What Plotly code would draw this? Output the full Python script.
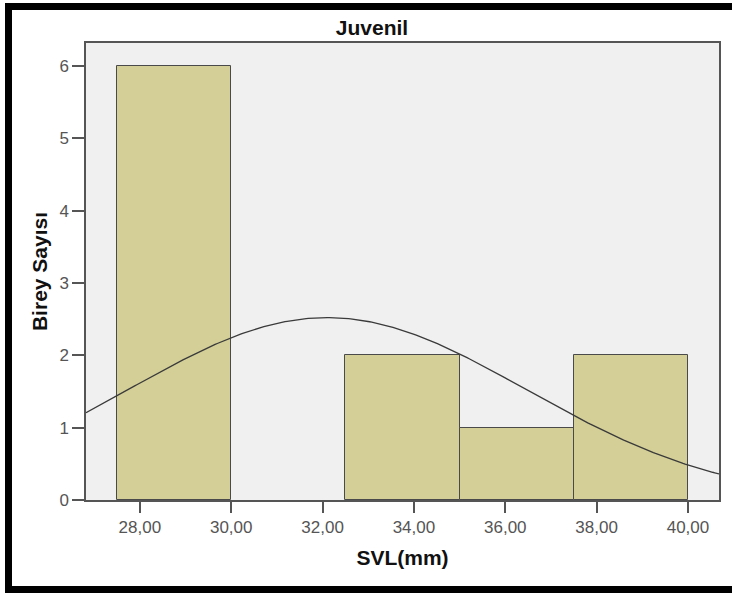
import numpy as np
import plotly.graph_objects as go

# Data
bin_starts = [27.5, 30.0, 32.5, 35.0, 37.5]
bin_width = 2.5
counts = [6, 0, 2, 1, 2]
x_tick_vals = [28, 30, 32, 34, 36, 38, 40]
x_tick_text = ["28,00", "30,00", "32,00", "34,00", "36,00", "38,00", "40,00"]
y_tick_vals = [0, 1, 2, 3, 4, 5, 6]
fit_mean = 32.1
fit_sd = 4.35
n_total = sum(counts)

W, H = 732, 593
ml, mr, mt, mb = 86, 13, 43, 93
pw, ph = W - ml - mr, H - mt - mb

centers = [s + bin_width / 2 for s in bin_starts]
x_range = [26.82, 40.68]
y_range = [0, 6.32]

xs = np.linspace(x_range[0], x_range[1], 300)
ys = n_total * bin_width / (fit_sd * np.sqrt(2 * np.pi)) * np.exp(-0.5 * ((xs - fit_mean) / fit_sd) ** 2)

fig = go.Figure()
fig.add_trace(go.Bar(x=centers, y=counts, width=[bin_width] * len(counts),
                     marker=dict(color="#d3cf97",
                                 line=dict(color="#4a4a4a", width=[1 if c > 0 else 0 for c in counts])),
                     hoverinfo="skip"))
fig.add_trace(go.Scatter(x=xs, y=ys, mode="lines", line=dict(color="#3a3a3a", width=1.3),
                         hoverinfo="skip"))

def px_to_paper_x(px):
    return (px - ml) / pw

def px_to_paper_y(py):
    return (H - mb - py) / ph

# outer black frame (right side runs off the picture)
fig.add_shape(type="rect", xref="paper", yref="paper",
              x0=px_to_paper_x(8.5), x1=px_to_paper_x(800),
              y0=px_to_paper_y(589.5), y1=px_to_paper_y(6.5),
              line=dict(color="black", width=7), fillcolor="rgba(0,0,0,0)", layer="below")

font_family = "Liberation Sans, Arial, sans-serif"
fig.update_layout(
    width=W, height=H,
    margin=dict(l=ml, r=mr, t=mt, b=mb, autoexpand=False),
    paper_bgcolor="white", plot_bgcolor="#f0f0f0",
    showlegend=False,
    bargap=0,
    title=dict(text="<b>Juvenil</b>", x=372 / W, xref="container", xanchor="center",
               y=1 - 28 / H, yref="container", yanchor="middle",
               font=dict(family=font_family, size=21, color="#111")),
    xaxis=dict(range=x_range, tickvals=x_tick_vals, ticktext=x_tick_text,
               ticks="outside", ticklen=11, tickcolor="#555", tickwidth=1.5,
               showline=True, linecolor="#555", linewidth=1.5, mirror=True,
               showgrid=False, zeroline=False,
               tickfont=dict(family=font_family, size=17, color="#555"),
               title=dict(text="<b>SVL(mm)</b>", standoff=14,
                          font=dict(family=font_family, size=21, color="#111"))),
    yaxis=dict(range=y_range, tickvals=y_tick_vals,
               ticks="outside", ticklen=12, tickcolor="#555", tickwidth=1.5,
               showline=True, linecolor="#555", linewidth=1.5, mirror=True,
               showgrid=False, zeroline=False,
               tickfont=dict(family=font_family, size=17, color="#555"),
               title=dict(text="<b>Birey Sayısı</b>", standoff=6,
                          font=dict(family=font_family, size=21, color="#111"))),
)

fig.write_html("out.html")
